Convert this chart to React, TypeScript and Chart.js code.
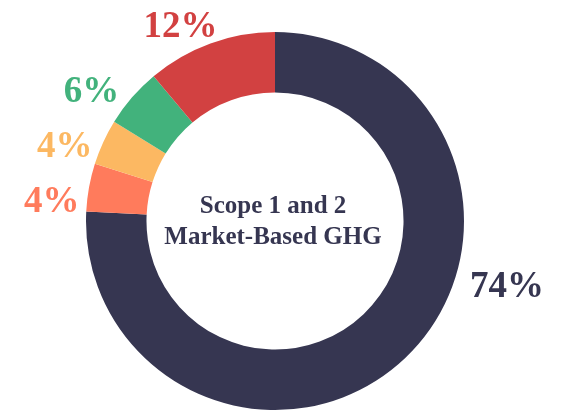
import React, { useEffect, useRef } from "react";
import { Chart, registerables } from "chart.js";

Chart.register(...registerables);

const categories = ["Scope 1", "Category A", "Category B", "Category C", "Category D"];
const values = [75.8, 4.1, 3.9, 5.1, 11.1];
const labelTexts = ["74%", "4%", "4%", "6%", "12%"];
const colors = ["#363651", "#FF7B5C", "#FCB862", "#42B27C", "#D24141"];
const centerLines = ["Scope 1 and 2", "Market-Based GHG"];
// label anchor: angle (deg, clockwise from top) and distance as multiple of outer radius
const labelAngles = [105.3, 275.6, 290.1, 305.7, 334.3];
const labelDist = [1.272, 1.187, 1.185, 1.196, 1.153];

const FONT = "'Liberation Serif', 'Times New Roman', serif";

const labelPlugin = {
  id: "labelPlugin",
  afterDraw(chart: any) {
    const ctx = chart.ctx;
    const meta = chart.getDatasetMeta(0);
    const arc0 = meta.data[0];
    if (!arc0) return;
    const cx = arc0.x;
    const cy = arc0.y;
    const R = arc0.outerRadius;
    ctx.save();
    ctx.textAlign = "center";
    ctx.textBaseline = "alphabetic";
    ctx.font = `bold 37px ${FONT}`;
    labelTexts.forEach((t, i) => {
      const a = (labelAngles[i] * Math.PI) / 180;
      const d = R * labelDist[i];
      const x = cx + Math.sin(a) * d;
      const y = cy - Math.cos(a) * d + 12.5;
      ctx.fillStyle = colors[i];
      ctx.fillText(t, x, y);
    });
    ctx.font = `bold 25px ${FONT}`;
    ctx.fillStyle = colors[0];
    ctx.fillText(centerLines[0], cx - 2, cy - 8.5);
    ctx.fillText(centerLines[1], cx - 2, cy + 22.5);
    ctx.restore();
  },
};

export default function App() {
  const ref = useRef<HTMLCanvasElement | null>(null);
  useEffect(() => {
    if (!ref.current) return;
    const chart = new Chart(ref.current, {
      type: "doughnut",
      data: {
        labels: categories,
        datasets: [
          {
            data: values,
            backgroundColor: colors,
            borderWidth: 0,
            hoverOffset: 0,
          },
        ],
      },
      options: {
        responsive: false,
        animation: false,
        cutout: "68%",
        layout: { padding: { top: 32, bottom: 1, left: 86, right: 105 } },
        plugins: {
          legend: { display: false },
          tooltip: { enabled: false },
        },
      },
      plugins: [labelPlugin],
    });
    return () => chart.destroy();
  }, []);
  return (
    <div style={{ position: "fixed", left: 0, top: 0, width: 569, height: 411, background: "#fff" }}>
      <canvas ref={ref} width={569} height={411} style={{ width: 569, height: 411 }} />
    </div>
  );
}
